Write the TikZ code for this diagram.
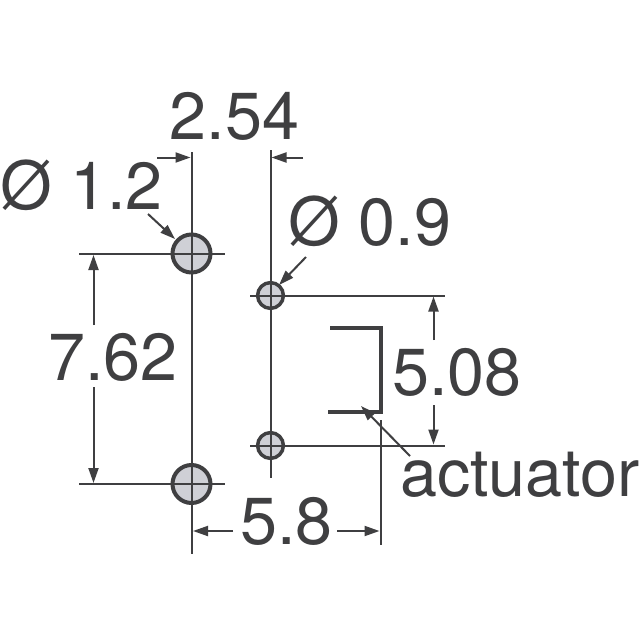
\documentclass[tikz,border=0pt]{standalone}
\usepackage{fontspec}
\setmainfont{TeX Gyre Heros}
\usetikzlibrary{arrows.meta}
\definecolor{ink}{HTML}{3F3F41}
\definecolor{pad}{HTML}{CFD0D6}
\tikzset{
  x=1pt,y=-1pt,
  bigpad/.style={circle,draw=ink,fill=pad,line width=4pt,minimum size=38pt,inner sep=0pt},
  smallpad/.style={circle,draw=ink,fill=pad,line width=3.5pt,minimum size=25.8pt,inner sep=0pt},
  thin line/.style={draw=ink,line width=2pt},
  dim/.style={thin line,-{Triangle[length=15pt,width=10pt]}},
  label/.style={text=ink,anchor=base west,inner sep=0pt,font=\fontsize{66.5}{66.5}\selectfont},
  actu/.style={draw=ink,line width=3.3pt,miter limit=10}
}
\begin{document}
\begin{tikzpicture}
\useasboundingbox (0,0) rectangle (640,640);
\fill[white] (0,0) rectangle (640,640);
% pads
\node[bigpad] (p1) at (191.5,253.5) {};
\node[bigpad] (p2) at (191.5,484) {};
\node[smallpad] (s1) at (270.5,295.5) {};
\node[smallpad] (s2) at (270.5,445.5) {};
% free ends of extension lines
\coordinate (lt) at (191.5,152);
\coordinate (lb) at (191.5,554);
\coordinate (rt) at (270.5,150);
\coordinate (rb) at (270.5,478);
\coordinate (h1l) at (79,253.5);
\coordinate (h1r) at (225,253.5);
\coordinate (h2l) at (79,484);
\coordinate (h2r) at (225,484);
\coordinate (h3l) at (250,295.5);
\coordinate (h3r) at (445,295.5);
\coordinate (h4l) at (250,445.5);
\coordinate (h4r) at (445,445.5);
\coordinate (ax) at (380.5,420);
\coordinate (ay) at (380.5,545);
\draw[thin line] (lt) -- (lb);
\draw[thin line] (rt) -- (rb);
\draw[thin line] (h1l) -- (h1r);
\draw[thin line] (h2l) -- (h2r);
\draw[thin line] (h3l) -- (h3r);
\draw[thin line] (h4l) -- (h4r);
\draw[thin line] (ax) -- (ay);
% actuator
\coordinate (a1) at (330,328);
\coordinate (a2) at (381,328);
\coordinate (a3) at (381,412);
\coordinate (a4) at (328,412);
\draw[actu] (a1) -- (a2) -- (a3) -- (a4);
% dimension arrows
\coordinate (d1a) at (157,157.5); \coordinate (d1b) at (190.5,157.5);
\coordinate (d2a) at (303,157.5); \coordinate (d2b) at (271.5,157.5);
\coordinate (d3a) at (93.5,325); \coordinate (d3b) at (93.5,255);
\coordinate (d4a) at (93.5,387); \coordinate (d4b) at (93.5,483);
\coordinate (d5a) at (433.5,340); \coordinate (d5b) at (433.5,296.5);
\coordinate (d6a) at (433.5,405); \coordinate (d6b) at (433.5,444.5);
\coordinate (d7a) at (233,531); \coordinate (d7b) at (193,531);
\coordinate (d8a) at (337,531); \coordinate (d8b) at (379.5,531);
\coordinate (d9a) at (148,214); \coordinate (d9b) at (175,239);
\coordinate (d10a) at (306,257); \coordinate (d10b) at (279,285);
\coordinate (d11a) at (410,456); \coordinate (d11b) at (361,406);
\foreach \i in {1,...,11} \draw[dim] (d\i a) -- (d\i b);
% labels
\node[label] (t1) at (169.5,139) {2.54};
\node[label] (t2) at (0,209) {Ø 1.2};
\node[label] (t3) at (288.5,245) {Ø 0.9};
\node[label] (t4) at (48,380) {7.62};
\node[label] (t5) at (392,395) {5.08};
\node[label] (t6) at (240,544) {5.8};
\node[label] (t7) at (400,496) {actuator};
\end{tikzpicture}
\end{document}
